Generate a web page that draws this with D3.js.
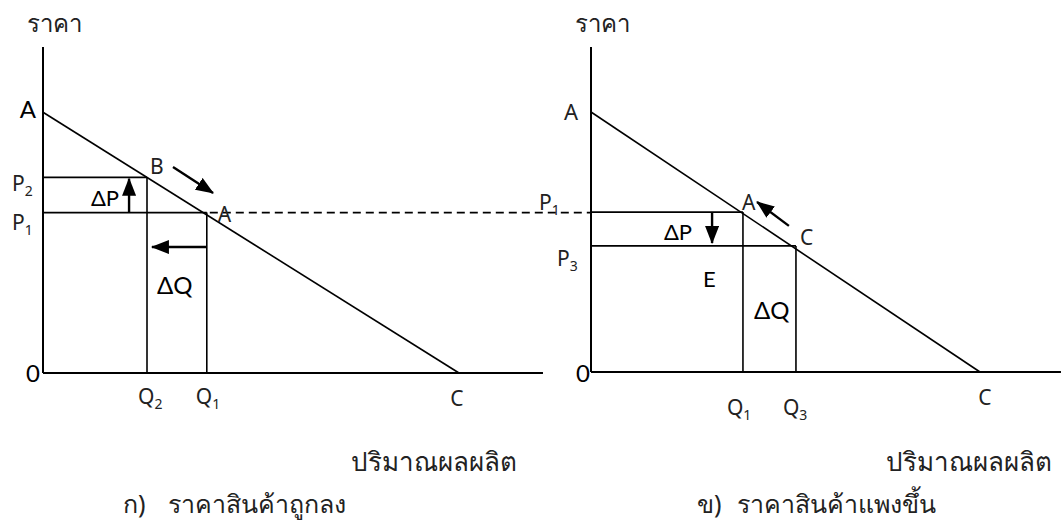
<!DOCTYPE html>
<html>
<head>
<meta charset="utf-8">
<script src="https://cdn.jsdelivr.net/npm/d3@7"></script>
<style>
  body { margin: 0; background: #fff; }
  text { font-family: "Noto Sans", "DejaVu Sans", sans-serif; fill: #222; }
  .bold { font-family: Lato, "Open Sans", sans-serif; fill: #000; }
</style>
</head>
<body>
<script>
// Demand curve  P = A - (A/C) * Q   (same for both panels)

const w = 1061;
const h = 530;

const priceTop = 12.5;      // where the price axis stops
const interceptA = 10;      // price intercept (A)
const interceptC = 16;      // quantity intercept (C)

// panel ก) price falls -> P1 to P2 is a price rise, quantity falls
const leftPrices = { P2: 7.5, P1: 6.15 };
const leftQty = { Q2: 4.0, Q1: 6.3 };
const leftQEnd = 19.23;
const leftArrows = [
    [5.0, 7.9, 6.54, 6.9],     // B -> A along the curve
    [3.31, 6.15, 3.31, 7.45],  // ΔP up
    [6.3, 4.83, 4.19, 4.83]    // ΔQ left
];

// panel ข) price rises
const rightPrices = { P1: 6.15, P3: 4.85 };
const rightQty = { Q1: 6.25, Q3: 8.43 };
const rightQEnd = 19.33;
const rightArrows = [
    [8.14, 5.62, 6.83, 6.54],  // C -> A along the curve
    [4.98, 6.15, 4.98, 4.96]   // ΔP down
];

let svg = d3.select("body")
    .append("svg")
    .attr("width", w)
    .attr("height", h)

svg.append("defs").append("marker")
    .attr("id", "head")
    .attr("markerUnits", "userSpaceOnUse")
    .attr("viewBox", "0 0 18 14")
    .attr("refX", 17)
    .attr("refY", 7)
    .attr("markerWidth", 18)
    .attr("markerHeight", 14)
    .attr("orient", "auto")
    .append("path")
    .attr("d", "M0,0 L18,7 L0,14 Z")
    .attr("fill", "#000")

// scales for each panel
let lx = d3.scaleLinear().domain([0, interceptC]).range([43, 459]);
let ly = d3.scaleLinear().domain([0, priceTop]).range([373, 47]);
let rx = d3.scaleLinear().domain([0, interceptC]).range([591, 980]);
let ry = d3.scaleLinear().domain([0, priceTop]).range([372, 47]);

function line(g, x1, y1, x2, y2, sw) {
    return g.append("line")
        .attr("x1", x1).attr("y1", y1)
        .attr("x2", x2).attr("y2", y2)
        .attr("stroke", "#000")
        .attr("stroke-width", sw || 1.6)
}

function label(g, txt, sub, x, y, opts) {
    opts = opts || {};
    let t = g.append("text")
        .attr("x", x)
        .attr("y", y)
        .attr("text-anchor", opts.anchor || "start")
        .attr("font-size", opts.size || 21)
        .attr("class", opts.cls || null)
    t.append("tspan").text(txt)
    if (sub) {
        t.append("tspan").text(sub)
            .attr("font-size", 14)
            .attr("dy", 5)
    }
    return t
}

function drawPanel(x, y, qEnd, arrows) {
    let g = svg.append("g");
    // axes
    line(g, x(0), y(priceTop), x(0), y(0), 2);
    line(g, x(0), y(0), x(qEnd), y(0), 2.2);
    // demand line
    line(g, x(0), y(interceptA), x(interceptC), y(0), 1.6);
    // arrows
    arrows.forEach(function (a) {
        line(g, x(a[0]), y(a[1]), x(a[2]), y(a[3]), 2.4)
            .attr("marker-end", "url(#head)")
    });
    return g;
}

// ---------- left panel ----------
let gl = drawPanel(lx, ly, leftQEnd, leftArrows);
line(gl, lx(0), ly(leftPrices.P2), lx(leftQty.Q2), ly(leftPrices.P2));
line(gl, lx(0), ly(leftPrices.P1), lx(leftQty.Q1), ly(leftPrices.P1));
line(gl, lx(leftQty.Q2), ly(leftPrices.P2), lx(leftQty.Q2), ly(0));
line(gl, lx(leftQty.Q1), ly(leftPrices.P1), lx(leftQty.Q1), ly(0));

// dashed link from A to the right panel's price axis
line(gl, lx(leftQty.Q1) + 3, ly(leftPrices.P1), rx(0), ly(leftPrices.P1), 1.6)
    .attr("stroke-dasharray", "8,5")

label(gl, "ราคา", null, lx(0) - 16, ly(priceTop) - 15, { size: 24 });
label(gl, "A", null, lx(0) - 7, ly(interceptA) + 6, { anchor: "end", size: 24, cls: "bold" });
label(gl, "P", "2", lx(0) - 31, ly(leftPrices.P2) + 14);
label(gl, "P", "1", lx(0) - 31, ly(leftPrices.P1) + 17);
label(gl, "B", null, lx(leftQty.Q2) + 3, ly(leftPrices.P2) - 3);
label(gl, "A", null, lx(leftQty.Q1) + 11, ly(leftPrices.P1) + 9);
label(gl, "ΔP", null, lx(leftArrows[1][0]) - 10, ly(leftPrices.P1) - 7, { anchor: "end", size: 22, cls: "bold" });
label(gl, "ΔQ", null, lx(leftQty.Q2) + 10, ly(0) - 79, { size: 24, cls: "bold" });
label(gl, "Q", "2", lx(leftQty.Q2) - 9, ly(0) + 31);
label(gl, "Q", "1", lx(leftQty.Q1) - 11, ly(0) + 31);
label(gl, "C", null, lx(interceptC) - 2, ly(0) + 33, { anchor: "middle" });
label(gl, "0", null, lx(0) - 3, ly(0) + 9, { anchor: "end", size: 24, cls: "bold" });
label(gl, "ปริมาณผลผลิต", null, 517, 471, { anchor: "end", size: 26 });
let tl = label(gl, "ก)", null, 123, 513, { size: 25 });
tl.append("tspan").attr("dx", 22).text("ราคาสินค้าถูกลง");

// ---------- right panel ----------
let gr = drawPanel(rx, ry, rightQEnd, rightArrows);
line(gr, rx(0), ry(rightPrices.P1), rx(rightQty.Q1), ry(rightPrices.P1));
line(gr, rx(0), ry(rightPrices.P3), rx(rightQty.Q3), ry(rightPrices.P3));
line(gr, rx(rightQty.Q1), ry(rightPrices.P1), rx(rightQty.Q1), ry(0));
line(gr, rx(rightQty.Q3), ry(rightPrices.P3), rx(rightQty.Q3), ry(0));

label(gr, "ราคา", null, rx(0) - 16, ry(priceTop) - 15, { size: 24 });
label(gr, "A", null, rx(0) - 13, ry(interceptA) + 8, { anchor: "end", size: 22 });
label(gr, "P", "1", rx(0) - 52, ry(rightPrices.P1) - 2);
label(gr, "P", "3", rx(0) - 34, ry(rightPrices.P3) + 20);
label(gr, "A", null, rx(rightQty.Q1) - 1, ry(rightPrices.P1) - 2);
label(gr, "C", null, rx(rightQty.Q3) + 4, ry(rightPrices.P3) - 1);
label(gr, "ΔP", null, rx(rightArrows[1][0]) - 20, ry(rightPrices.P1) + 28, { anchor: "end", size: 22, cls: "bold" });
label(gr, "E", null, rx(rightQty.Q1) - 40, ry(rightPrices.P3) + 41, { size: 22, cls: "bold" });
label(gr, "ΔQ", null, rx(rightQty.Q1) + 11, ry(0) - 53, { size: 24, cls: "bold" });
label(gr, "Q", "1", rx(rightQty.Q1) - 16, ry(0) + 43);
label(gr, "Q", "3", rx(rightQty.Q3) - 13, ry(0) + 43);
label(gr, "C", null, rx(interceptC) + 5, ry(0) + 33, { anchor: "middle" });
label(gr, "0", null, rx(0) - 1, ry(0) + 10, { anchor: "end", size: 24, cls: "bold" });
label(gr, "ปริมาณผลผลิต", null, 1052, 471, { anchor: "end", size: 26 });
let tr = label(gr, "ข)", null, 697, 513, { size: 25 });
tr.append("tspan").attr("dx", 15).text("ราคาสินค้าแพงขึ้น");
</script>
</body>
</html>
